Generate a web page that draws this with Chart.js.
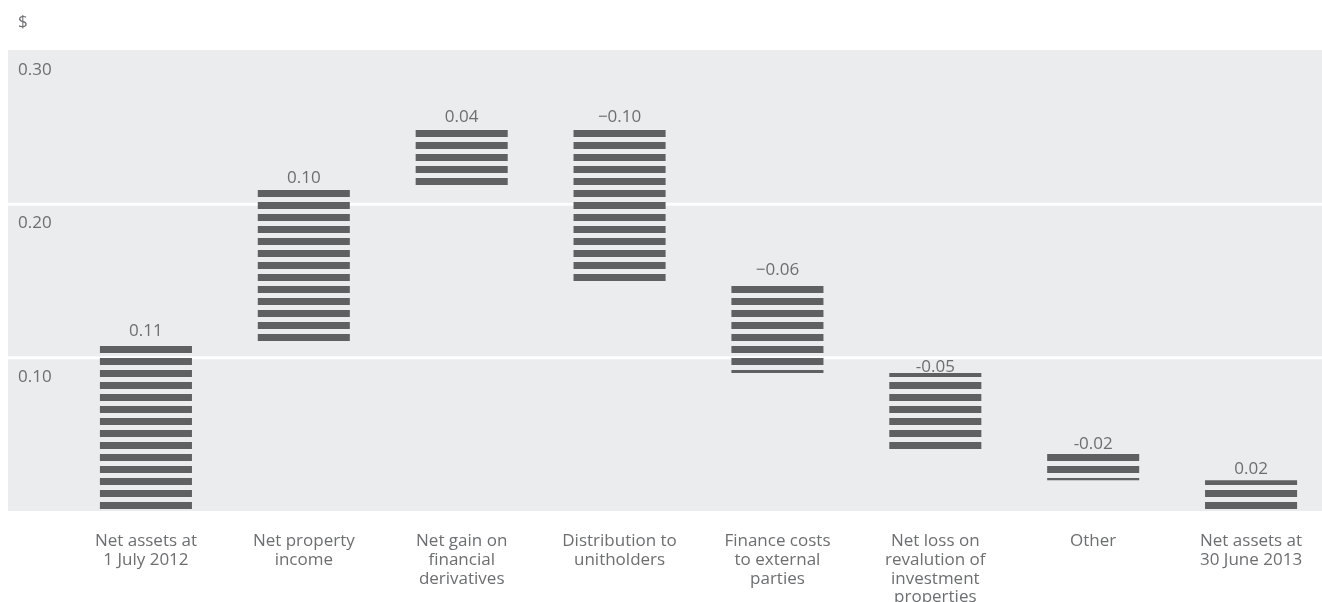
<!DOCTYPE html>
<html>
<head>
<meta charset="utf-8">
<script src="https://cdn.jsdelivr.net/npm/chart.js@4.4.0/dist/chart.umd.min.js"></script>
<style>
  html, body { margin: 0; padding: 0; background: #fff; overflow: hidden; }
  #wrap { position: relative; width: 1330px; height: 602px; }
  #unit { position: absolute; left: 18px; top: 9px; font: 17px "Open Sans", sans-serif; color: #6d6e70; }
</style>
</head>
<body>
<div id="wrap">
  <canvas id="bridge"></canvas>
  <div id="unit">$</div>
</div>
<script>
const categories = [
  ['Net assets at', '1 July 2012'],
  ['Net property', 'income'],
  ['Net gain on', 'financial', 'derivatives'],
  ['Distribution to', 'unitholders'],
  ['Finance costs', 'to external', 'parties'],
  ['Net loss on', 'revalution of', 'investment', 'properties'],
  ['Other'],
  ['Net assets at', '30 June 2013']
];
const movements = [0.11, 0.10, 0.04, -0.10, -0.06, -0.05, -0.02, 0.02];
const isTotal = [true, false, false, false, false, false, false, true];
const valueLabels = ['0.11', '0.10', '0.04', '\u22120.10', '\u22120.06', '-0.05', '-0.02', '0.02'];
const yTicks = [0.10, 0.20, 0.30];

// gap between bar top and its value label (hyphen labels sit on the line)
const labelLift = [6, 6, 6, 6, 6, 1, 1, 6];
const textColor = '#6d6e70';
const textFont = '17px "Open Sans", sans-serif';

// waterfall: each step floats from the running total
let running = 0;
const ranges = movements.map((m, i) => {
  if (isTotal[i]) {
    running = m;
    return [0, m];
  }
  const from = running;
  running = Math.round((running + m) * 1000) / 1000;
  return [from, running];
});

function stripes(ctx) {
  const tile = document.createElement('canvas');
  tile.width = 12;
  tile.height = 12;
  const t = tile.getContext('2d');
  t.fillStyle = '#5f6062';
  t.fillRect(0, 10, 12, 2);
  t.fillRect(0, 0, 12, 5);
  return ctx.createPattern(tile, 'repeat');
}

const panel = {
  id: 'panel',
  beforeDatasetsDraw(chart) {
    const {ctx, chartArea, scales: {y}} = chart;
    ctx.save();
    ctx.fillStyle = '#ebecee';
    ctx.fillRect(8, chartArea.top - 1, chart.width - 8, chartArea.bottom - chartArea.top + 1);
    ctx.strokeStyle = '#ffffff';
    ctx.lineWidth = 3;
    yTicks.forEach(v => {
      if (v >= y.max) return;
      const py = y.getPixelForValue(v);
      ctx.beginPath();
      ctx.moveTo(8, py);
      ctx.lineTo(chart.width, py);
      ctx.stroke();
    });
    ctx.fillStyle = textColor;
    ctx.font = textFont;
    ctx.textAlign = 'left';
    ctx.textBaseline = 'alphabetic';
    yTicks.forEach(v => ctx.fillText(v.toFixed(2), 18, y.getPixelForValue(v) + 24));
    ctx.restore();
  }
};

const valueText = {
  id: 'valueText',
  afterDatasetsDraw(chart) {
    const {ctx} = chart;
    const meta = chart.getDatasetMeta(0);
    ctx.save();
    ctx.fillStyle = textColor;
    ctx.font = textFont;
    ctx.textAlign = 'center';
    ctx.textBaseline = 'alphabetic';
    meta.data.forEach((bar, i) => {
      const top = Math.min(bar.y, bar.base);
      ctx.fillText(valueLabels[i], bar.x, top - labelLift[i]);
    });
    ctx.restore();
  }
};

const ctx = document.getElementById('bridge').getContext('2d');
new Chart(ctx, {
  type: 'bar',
  data: {
    labels: categories,
    datasets: [{
      data: ranges,
      backgroundColor: stripes(ctx),
      borderWidth: 0,
      borderSkipped: false,
      barPercentage: 0.583,
      categoryPercentage: 1
    }]
  },
  options: {
    responsive: true,
    maintainAspectRatio: false,
    animation: false,
    layout: { padding: { left: 67, top: 51, right: 0, bottom: 0 } },
    plugins: {
      legend: { display: false },
      tooltip: { enabled: false }
    },
    scales: {
      x: {
        grid: { display: false, drawTicks: false },
        border: { display: false },
        ticks: {
          color: textColor,
          font: { family: '"Open Sans", sans-serif', size: 17, lineHeight: 1.1 },
          padding: 21,
          maxRotation: 0,
          autoSkip: false
        },
        afterFit(scale) { scale.height = 91; }
      },
      y: { display: false, min: 0, max: 0.30 }
    }
  },
  plugins: [panel, valueText]
});
</script>
</body>
</html>
